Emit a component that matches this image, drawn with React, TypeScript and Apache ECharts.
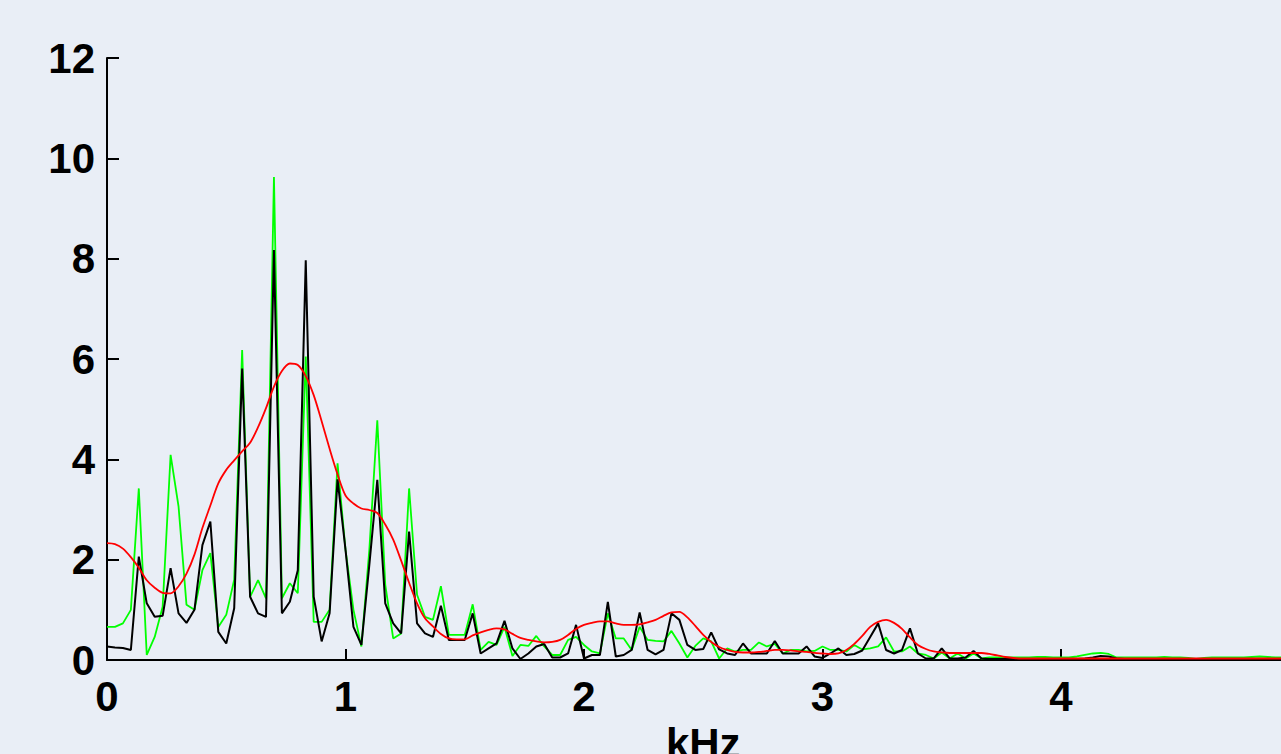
import React, { useEffect, useRef } from "react";
import * as echarts from "echarts";

// Frequency bin width of the spectra (kHz per sample)
const BIN_KHZ = 1 / 30;
const X_MIN = 0;
const X_MAX = 5;
const Y_MIN = 0;
const Y_MAX = 12;
const X_NAME = "kHz";

// Black spectrum
const blackSpectrum: number[] = [
  0.27, 0.25, 0.24, 0.2, 2.06, 1.13, 0.86, 0.88, 1.83, 0.93,
  0.74, 1.0, 2.29, 2.76, 0.56, 0.33, 1.03, 5.81, 1.26, 0.93,
  0.86, 8.17, 0.93, 1.16, 1.79, 7.97, 1.26, 0.37, 0.93, 3.6,
  2.2, 0.66, 0.3, 1.9, 3.59, 1.13, 0.73, 0.53, 2.56, 0.73,
  0.53, 0.46, 1.08, 0.4, 0.4, 0.4, 0.93, 0.13, 0.23, 0.33,
  0.78, 0.23, 0.02, 0.13, 0.27, 0.32, 0.05, 0.05, 0.13, 0.7,
  0.03, 0.1, 0.1, 1.16, 0.07, 0.1, 0.2, 0.95, 0.2, 0.11,
  0.2, 0.93, 0.8, 0.3, 0.2, 0.22, 0.55, 0.21, 0.13, 0.1,
  0.33, 0.13, 0.13, 0.13, 0.38, 0.13, 0.13, 0.13, 0.27, 0.07,
  0.04, 0.13, 0.23, 0.1, 0.12, 0.19, 0.46, 0.73, 0.2, 0.13,
  0.2, 0.63, 0.13, 0.03, 0.03, 0.23, 0.03, 0.03, 0.05, 0.18,
  0.03, 0.02, 0.02, 0.02, 0.02, 0.02, 0.02, 0.02, 0.02, 0.02,
  0.02, 0.02, 0.02, 0.03, 0.05, 0.08, 0.07, 0.03, 0.02, 0.02,
  0.02, 0.02, 0.02, 0.02, 0.02, 0.02, 0.02, 0.02, 0.02, 0.02,
  0.02, 0.02, 0.02, 0.02, 0.02, 0.02, 0.02, 0.02, 0.02, 0.02,
];

// Green spectrum
const greenSpectrum: number[] = [
  0.66, 0.66, 0.73, 1.0, 3.42, 0.1, 0.46, 1.06, 4.09, 3.06,
  1.1, 1.0, 1.79, 2.13, 0.66, 0.9, 1.6, 6.18, 1.26, 1.59,
  1.23, 9.63, 1.23, 1.53, 1.33, 6.05, 0.76, 0.76, 1.0, 3.92,
  2.2, 1.0, 0.27, 2.2, 4.78, 1.5, 0.43, 0.53, 3.42, 1.3,
  0.86, 0.8, 1.47, 0.5, 0.5, 0.5, 1.11, 0.2, 0.36, 0.3,
  0.66, 0.08, 0.3, 0.28, 0.48, 0.27, 0.1, 0.1, 0.4, 0.46,
  0.3, 0.17, 0.13, 0.93, 0.43, 0.43, 0.2, 0.66, 0.4, 0.38,
  0.37, 0.58, 0.33, 0.05, 0.28, 0.43, 0.37, 0.03, 0.23, 0.17,
  0.2, 0.2, 0.35, 0.27, 0.32, 0.13, 0.2, 0.2, 0.17, 0.18,
  0.27, 0.2, 0.2, 0.17, 0.3, 0.21, 0.23, 0.27, 0.45, 0.17,
  0.17, 0.27, 0.13, 0.1, 0.03, 0.15, 0.03, 0.13, 0.03, 0.13,
  0.03, 0.05, 0.05, 0.05, 0.05, 0.05, 0.05, 0.06, 0.06, 0.05,
  0.05, 0.05, 0.07, 0.1, 0.13, 0.14, 0.12, 0.05, 0.05, 0.05,
  0.05, 0.05, 0.05, 0.06, 0.05, 0.05, 0.04, 0.02, 0.04, 0.05,
  0.05, 0.05, 0.05, 0.05, 0.06, 0.07, 0.06, 0.05, 0.05, 0.05,
];

// Red smooth envelope
const redEnvelope: number[] = [
  2.33, 2.31, 2.22, 2.05, 1.84, 1.59, 1.44, 1.34, 1.33, 1.47,
  1.72, 2.1, 2.63, 3.08, 3.52, 3.79, 3.98, 4.16, 4.33, 4.64,
  5.02, 5.45, 5.76, 5.91, 5.88, 5.66, 5.28, 4.76, 4.21, 3.7,
  3.28, 3.12, 3.02, 2.99, 2.93, 2.7, 2.4, 1.98, 1.54, 1.13,
  0.83, 0.67, 0.52, 0.43, 0.41, 0.41, 0.49, 0.55, 0.6, 0.63,
  0.61, 0.52, 0.44, 0.4, 0.37, 0.35, 0.36, 0.4, 0.5, 0.62,
  0.7, 0.74, 0.77, 0.77, 0.73, 0.7, 0.7, 0.71, 0.75, 0.8,
  0.88, 0.95, 0.96, 0.85, 0.68, 0.5, 0.36, 0.26, 0.2, 0.16,
  0.15, 0.15, 0.16, 0.18, 0.2, 0.2, 0.19, 0.17, 0.16, 0.14,
  0.13, 0.12, 0.13, 0.2, 0.32, 0.48, 0.66, 0.76, 0.8, 0.74,
  0.62, 0.45, 0.3, 0.22, 0.17, 0.15, 0.14, 0.14, 0.14, 0.14,
  0.14, 0.12, 0.09, 0.06, 0.04, 0.03, 0.03, 0.03, 0.03, 0.03,
  0.03, 0.03, 0.03, 0.03, 0.03, 0.03, 0.03, 0.03, 0.03, 0.03,
  0.03, 0.03, 0.03, 0.03, 0.03, 0.03, 0.03, 0.03, 0.03, 0.03,
  0.03, 0.03, 0.03, 0.03, 0.03, 0.03, 0.03, 0.03, 0.03, 0.03,
];

const FONT = "'Liberation Sans', Arial, sans-serif";

function toPairs(vals: number[]): [number, number][] {
  return vals.map((v, i) => [i * BIN_KHZ, v]);
}

export default function App() {
  const ref = useRef<HTMLDivElement>(null);

  useEffect(() => {
    if (!ref.current) return;
    const chart = echarts.init(ref.current, null, { renderer: "svg" });
    const axisLine = { show: true, lineStyle: { color: "#000", width: 2 } };
    const labelStyle = { color: "#000", fontSize: 42, fontWeight: "bold", fontFamily: FONT };
    chart.setOption({
      animation: false,
      backgroundColor: "#e9eef6",
      grid: {
        left: 107,
        top: 58,
        right: 0.5,
        bottom: 94,
        containLabel: false,
        outerBoundsMode: "none",
      },
      xAxis: {
        type: "value",
        min: X_MIN,
        max: X_MAX,
        interval: 1,
        name: X_NAME,
        nameLocation: "middle",
        nameGap: 62,
        nameTextStyle: labelStyle,
        axisLine,
        axisTick: { show: true, inside: true, length: 11, lineStyle: { color: "#000", width: 2 } },
        axisLabel: { ...labelStyle, margin: 15, showMaxLabel: false },
        splitLine: { show: false },
      },
      yAxis: {
        type: "value",
        min: Y_MIN,
        max: Y_MAX,
        interval: 2,
        axisLine,
        axisTick: { show: true, inside: true, length: 12, lineStyle: { color: "#000", width: 2 } },
        axisLabel: { ...labelStyle, margin: 12 },
        splitLine: { show: false },
      },
      series: [
        {
          type: "line",
          data: toPairs(greenSpectrum),
          showSymbol: false,
          lineStyle: { color: "#00ff00", width: 1.8 },
          z: 2,
        },
        {
          type: "line",
          data: toPairs(blackSpectrum),
          showSymbol: false,
          lineStyle: { color: "#000000", width: 2 },
          z: 3,
        },
        {
          type: "line",
          data: toPairs(redEnvelope),
          showSymbol: false,
          smooth: 0.3,
          lineStyle: { color: "#ff0000", width: 1.8 },
          z: 4,
        },
      ],
    });
    return () => chart.dispose();
  }, []);

  return (
    <div
      style={{
        position: "fixed",
        left: 0,
        top: 0,
        width: 1281,
        height: 754,
        overflow: "hidden",
        background: "#e9eef6",
      }}
    >
      <div ref={ref} style={{ width: 1300, height: 754 }} />
    </div>
  );
}
